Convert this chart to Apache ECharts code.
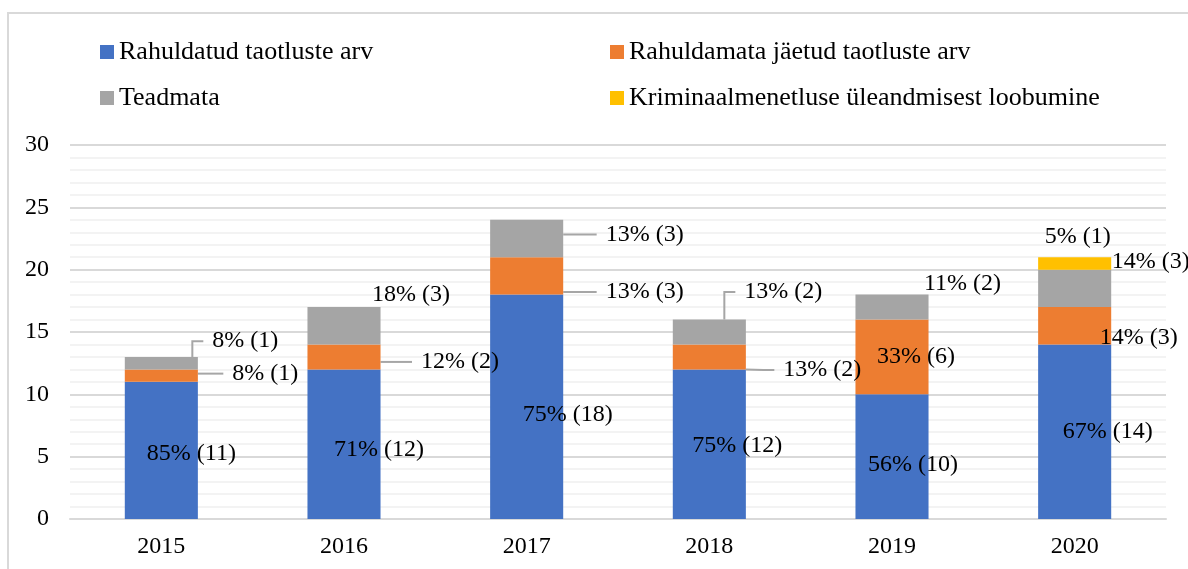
<!DOCTYPE html>
<html>
<head>
<meta charset="utf-8">
<script src="https://cdn.jsdelivr.net/npm/echarts@6/dist/echarts.min.js"></script>
<style>
  html, body { margin: 0; padding: 0; background: #fff; overflow: hidden; }
  #frame { position: absolute; left: 7px; top: 12px; width: 1300px; height: 700px; border: 2px solid #d9d9d9; }
  #chart { position: absolute; left: 0; top: 0; width: 1188px; height: 569px; }
</style>
</head>
<body>
<div id="frame"></div>
<div id="chart"></div>
<script>
const years = ["2015", "2016", "2017", "2018", "2019", "2020"];
const seriesNames = [
  "Rahuldatud taotluste arv",
  "Rahuldamata jäetud taotluste arv",
  "Teadmata",
  "Kriminaalmenetluse üleandmisest loobumine",
];
const rahuldatud = [11, 12, 18, 12, 10, 14];
const rahuldamata = [1, 2, 3, 2, 6, 3];
const teadmata = [1, 3, 3, 2, 2, 3];
const loobumine = [0, 0, 0, 0, 0, 1];
const yTicks = [0, 5, 10, 15, 20, 25, 30];

// label placement relative to the bar segment centre: [dx, dy, align, leader line]
const labelPlace = [
  [[30, 3, "center"], [35, 6, "center"], [41, 8, "center"], [28, 2, "center"], [21, 8, "center"], [33, 0, "center"]],
  [[71, -2, "left", 1], [77, 5, "left", 1], [79, 16, "left", 1], [74, 13, "left", 1], [24, 0, "center"], [25, 12, "left"]],
  [[51, -22, "left", 1], [28, -31, "left"], [79, -4, "left", 1], [35, -40, "left", 1], [32, -23, "left"], [37, -27, "left"]],
  [null, null, null, null, null, [-30, -27, "left"]],
];
const colors = ["#4472C4", "#ED7D31", "#A5A5A5", "#FFC000"];
const font = "'Liberation Serif', 'Times New Roman', serif";
const gap = 9; // space between leader line end and label text

const values = [rahuldatud, rahuldamata, teadmata, loobumine];
const totals = years.map((_, i) => values.reduce((s, arr) => s + arr[i], 0));

const chart = echarts.init(document.getElementById("chart"));

const series = values.map((arr, si) => ({
  name: seriesNames[si],
  type: "bar",
  stack: "total",
  barWidth: "40%",
  itemStyle: { color: colors[si] },
  data: arr.map((v, i) => {
    const p = labelPlace[si][i];
    const withLine = !!(p && p[3]);
    const item = { value: v === 0 ? null : v, labelLine: { show: withLine } };
    if (withLine) {
      item.label = { padding: [0, gap, 0, gap], backgroundColor: "rgba(255,255,255,0)" };
    }
    return item;
  }),
  label: {
    show: true,
    position: "inside",
    color: "#000",
    fontFamily: font,
    fontSize: 24,
    formatter: (params) =>
      Math.round((params.value / totals[params.dataIndex]) * 100) + "% (" + params.value + ")",
  },
  labelLine: {
    show: false,
    length2: 11,
    lineStyle: { color: "#a6a6a6", width: 2 },
  },
  labelLayout: (params) => {
    const p = labelPlace[si][params.dataIndex];
    if (!p) return {};
    const r = params.rect;
    return {
      x: r.x + r.width / 2 + p[0] - (p[3] ? gap : 0),
      y: r.y + r.height / 2 + p[1],
      align: p[2],
      verticalAlign: "middle",
    };
  },
}));

const legendPos = [
  { left: 100, top: 39 },
  { left: 610, top: 39 },
  { left: 100, top: 85 },
  { left: 610, top: 85 },
];

const option = {
  animation: false,
  legend: seriesNames.map((n, i) => ({
    data: [n],
    left: legendPos[i].left,
    top: legendPos[i].top,
    padding: 0,
    icon: "rect",
    itemWidth: 14,
    itemHeight: 14,
    textStyle: { fontFamily: font, fontSize: 26, color: "#000", lineHeight: 26 },
  })),
  grid: { left: 70, right: 22, top: 145, bottom: 50, containLabel: false },
  xAxis: {
    type: "category",
    data: years,
    axisLine: { show: true, lineStyle: { color: "#d9d9d9", width: 2 } },
    axisTick: { show: false },
    axisLabel: { color: "#000", fontFamily: font, fontSize: 24, margin: 16 },
  },
  yAxis: {
    type: "value",
    min: yTicks[0],
    max: yTicks[yTicks.length - 1],
    interval: 5,
    axisLine: { show: false },
    axisTick: { show: false },
    axisLabel: { color: "#000", fontFamily: font, fontSize: 24, margin: 21 },
    splitLine: { lineStyle: { color: "#d9d9d9", width: 2 } },
    minorTick: { show: false, splitNumber: 5 },
    minorSplitLine: { show: true, lineStyle: { color: "#efefef", width: 1.5 } },
  },
  series,
};

chart.setOption(option);
</script>
</body>
</html>
